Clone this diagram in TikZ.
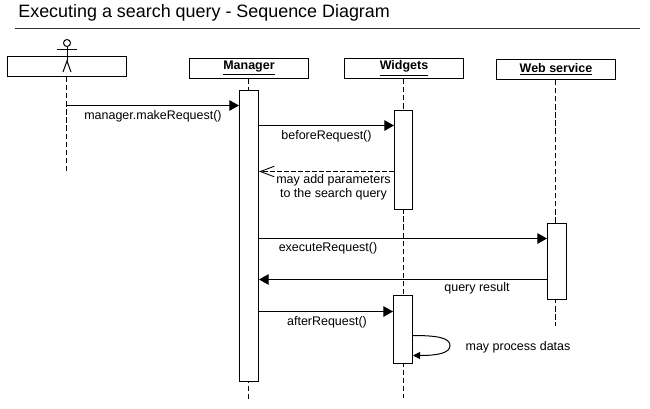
\documentclass[tikz,border=0pt]{standalone}
\usepackage{fontspec}
\setmainfont{Liberation Sans}
\usetikzlibrary{arrows.meta}
\usetikzlibrary{positioning}
\tikzset{objbox/.style = {draw, line width=0.567pt, fill=white, minimum width=119*0.02cm,
                          minimum height=20*0.02cm, inner sep=0pt,
                          font=\fontsize{7.1}{8}\selectfont\bfseries},
         bar/.style = {draw, line width=0.567pt, fill=white, minimum width=19*0.02cm, inner sep=0pt},
         lifeline/.style = {line width=0.567pt, dash pattern=on 3pt off 1.6pt},
         call/.style = {line width=0.567pt, -{Triangle[length=5.5pt, width=6pt]}},
         reply/.style = {line width=0.567pt, dash pattern=on 2.6pt off 1.4pt,
                         -{Straight Barb[length=8pt, width=6pt, line width=0.5pt]}},
         msg/.style = {font=\fontsize{7.1}{8}\selectfont, inner sep=0pt, align=center}}

\begin{document}
\begin{tikzpicture}[x=0.02cm, y=-0.02cm]
    \useasboundingbox (0, 0) rectangle (650, 409);

    \node [anchor=west, inner sep=0pt, font=\fontsize{10.2}{12}\selectfont] (title) at (18, 13)
        {Executing a search query - Sequence Diagram};
    \coordinate (ruleleft) at (15, 28.5);
    \coordinate (ruleright) at (640, 28.5);
    \draw [line width=0.567pt, black!80] (ruleleft) -- (ruleright);

    \node [objbox] (user) at (67, 66.5) {};
    \node [objbox] (manager) at (249, 68.5) {\underline{Manager}};
    \node [objbox] (widgets) at (404, 68.5) {\underline{Widgets}};
    \node [objbox] (web) at (556, 69.5) {\underline{Web service}};

    \coordinate (userend) at (66.5, 172);
    \coordinate (managerend) at (248.5, 400);
    \coordinate (widgetsend) at (403.5, 398);
    \coordinate (webend) at (555.5, 326);

    \draw [lifeline] (userend |- user.south) -- (userend);
    \draw [lifeline] (managerend |- manager.south) -- (managerend);
    \draw [lifeline] (widgetsend |- widgets.south) -- (widgetsend);
    \draw [lifeline] (webend |- web.south) -- (webend);

    \node [bar, minimum height=291*0.02cm] (managerbar) at (249, 236) {};
    \node [bar, minimum width=18*0.02cm, minimum height=99*0.02cm] (widgetsbara) at (403.5, 160) {};
    \node [bar, minimum height=68*0.02cm] (widgetsbarb) at (403, 329.5) {};
    \node [bar, minimum height=76*0.02cm] (webbar) at (557, 261.5) {};

    \node [circle, draw, line width=0.567pt, minimum size=7*0.02cm, inner sep=0pt] (head) at (67, 43) {};
    \coordinate (armleft) at (57, 49.5);
    \coordinate (armright) at (77, 49.5);
    \coordinate (hip) at (67, 61);
    \coordinate (footleft) at (63, 72);
    \coordinate (footright) at (71, 72);
    \draw [line width=0.567pt] (head) -- (hip);
    \draw [line width=0.567pt] (armleft) -- (armright);
    \draw [line width=0.567pt] (footleft) -- (hip) -- (footright);

    \coordinate (makestart) at (67, 105.5);
    \draw [call] (makestart) -- (makestart -| managerbar.west);
    \coordinate (beforestart) at (259, 125.5);
    \draw [call] (beforestart) -- (beforestart -| widgetsbara.west);
    \coordinate (addstart) at (394, 171.5);
    \draw [reply] (addstart) -- (addstart -| managerbar.east);
    \coordinate (executestart) at (259, 238.5);
    \draw [call] (executestart) -- (executestart -| webbar.west);
    \coordinate (resultstart) at (547, 279.5);
    \draw [call] (resultstart) -- (resultstart -| managerbar.east);
    \coordinate (afterstart) at (259, 311.5);
    \draw [call] (afterstart) -- (afterstart -| widgetsbarb.west);

    \coordinate (loopstart) at (413, 335.5);
    \coordinate (loopend) at (413, 355.5);
    \draw [line width=0.567pt, -{Triangle[length=4pt, width=4pt]}] (loopstart)
        .. controls (438, 335.5) and (450, 338) .. (450, 345.5)
        .. controls (450, 353) and (438, 355.5) .. (loopend);

    \node [msg] (makelabel) at (153, 116) {manager.makeRequest()};
    \node [msg] (beforelabel) at (326.5, 136.5) {beforeRequest()};
    \node [msg] (addlabel) at (333.5, 187.5) {may add parameters\\to the search query};
    \node [msg] (executelabel) at (328, 248) {executeRequest()};
    \node [msg] (resultlabel) at (477, 288.5) {query result};
    \node [msg] (afterlabel) at (327, 322) {afterRequest()};
    \node [msg] (processlabel) at (518, 347) {may process datas};
  \end{tikzpicture}
\end{document}
